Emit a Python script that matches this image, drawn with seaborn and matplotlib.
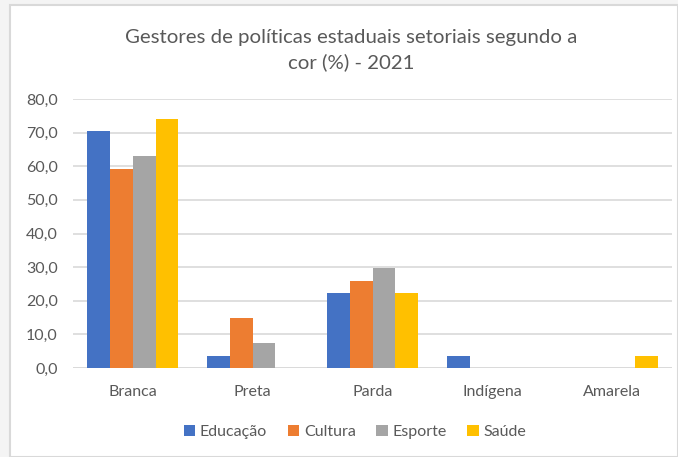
import matplotlib
matplotlib.use("Agg")
import matplotlib.pyplot as plt
import matplotlib.patches as mpatches
import seaborn as sns
import pandas as pd

categories = ["Branca", "Preta", "Parda", "Indígena", "Amarela"]
series = ["Educação", "Cultura", "Esporte", "Saúde"]
educacao = [70.4, 3.7, 22.2, 3.7, 0.0]
cultura = [59.3, 14.8, 25.9, 0.0, 0.0]
esporte = [63.0, 7.4, 29.6, 0.0, 0.0]
saude = [74.1, 0.0, 22.2, 0.0, 3.7]
colors = ["#4472C4", "#ED7D31", "#A5A5A5", "#FFC000"]
title = "Gestores de políticas estaduais setoriais segundo a\ncor (%) - 2021"

rows = []
for s, vals in zip(series, [educacao, cultura, esporte, saude]):
    for c, v in zip(categories, vals):
        rows.append({"Cor": c, "Série": s, "Valor": v})
df = pd.DataFrame(rows)

sns.set_theme(style="white")
plt.rcParams["font.family"] = ["Lato", "DejaVu Sans"]

W, H = 678, 457
fig = plt.figure(figsize=(W / 100, H / 100), dpi=100)
fig.patch.set_facecolor("#F4F4F4")
# white chart panel with light border
fig.patches.append(mpatches.Rectangle((10 / W, 0), 1 - 10 / W, 1 - 5 / H,
                                      transform=fig.transFigure, facecolor="white",
                                      edgecolor="#D9D9D9", linewidth=1.5, zorder=-10))

ax = fig.add_axes([73 / W, 1 - 368 / H, (672 - 73) / W, (368 - 99) / H])
ax.set_facecolor("none")
sns.barplot(data=df, x="Cor", y="Valor", hue="Série", order=categories,
            hue_order=series, palette=colors, width=0.76, saturation=1,
            linewidth=0, ax=ax, legend=False)

ax.set_ylim(0, 80)
ax.set_xlim(-0.5, len(categories) - 0.5)
ax.set_yticks(range(0, 81, 10))
ax.set_yticklabels([f"{v},0" for v in range(0, 81, 10)])
ax.yaxis.grid(True, color="#D9D9D9", linewidth=1.2)
ax.set_axisbelow(True)
for sp in ax.spines.values():
    sp.set_visible(False)
ax.axhline(0, color="#D9D9D9", linewidth=1.2, zorder=0.5)
ax.set_xlabel("")
ax.set_ylabel("")
ax.tick_params(axis="both", length=0, labelsize=11.5, colors="#595959")
ax.tick_params(axis="y", pad=11)
ax.tick_params(axis="x", pad=12)

handles = [mpatches.Patch(facecolor=c, edgecolor="none") for c in colors]
fig.legend(handles, series, loc="center", bbox_to_anchor=(355 / W, 1 - 432 / H),
           ncol=4, frameon=False, fontsize=11.5, handlelength=0.7, handleheight=0.7,
           handletextpad=0.3, columnspacing=1.3, labelcolor="#595959")

fig.text(351 / W, 1 - 50 / H, title, ha="center", va="center", fontsize=14.7,
         color="#595959", linespacing=1.45)

fig.savefig("out.png", dpi=100, facecolor=fig.get_facecolor())
